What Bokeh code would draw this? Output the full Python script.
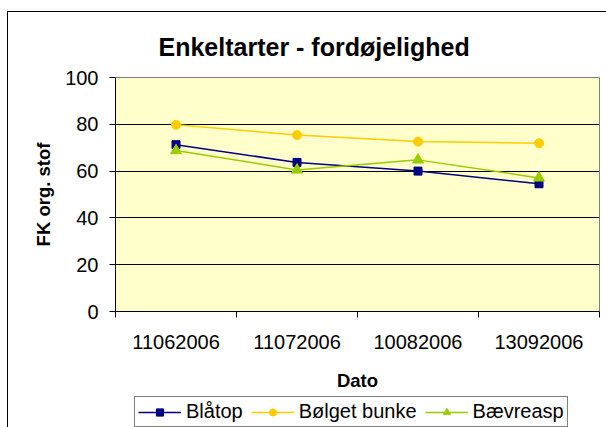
from bokeh.plotting import figure
from bokeh.layouts import column
from bokeh.models import (FixedTicker, Legend, LegendItem, Range1d, ColumnDataSource)
from bokeh.embed import file_html
from bokeh.resources import INLINE

# ---- data ----
dates = ["11062006", "11072006", "10082006", "13092006"]
blatop = [71.3, 63.7, 60.0, 54.6]
bolget_bunke = [79.8, 75.4, 72.6, 71.9]
baevreasp = [68.8, 60.5, 64.8, 57.1]
y_ticks = [0, 20, 40, 60, 80, 100]
series_names = ["Blåtop", "Bølget bunke", "Bævreasp"]

title_text = "Enkeltarter - fordøjelighed"
x_label = "Dato"
y_label = "FK org. stof"

xpos = [i + 0.5 for i in range(len(dates))]
src = ColumnDataSource(dict(x=xpos, a=blatop, b=bolget_bunke, c=baevreasp))

FONT = "Liberation Sans"
COLORS = ["#000080", "#FFCC00", "#99CC00"]
MARKERS = ["square", "circle", "triangle"]
SIZES = [8, 9, 11]

p = figure(width=598, height=384, output_backend="svg", toolbar_location=None,
           x_range=Range1d(0, len(dates)), y_range=Range1d(0, 100),
           min_border_left=107, min_border_right=7, min_border_top=65,
           min_border_bottom=85)

p.title.text = title_text
p.title.align = "left"
p.title.offset = 43
p.title.text_font = FONT
p.title.text_font_size = "25px"
p.title.text_font_style = "bold"
p.title.text_color = "black"
p.title.standoff = 34

p.background_fill_color = "#FFFFCC"
p.border_fill_color = "white"
p.outline_line_color = "#808080"
p.outline_line_width = 1

# grid
p.xgrid.visible = False
p.ygrid.ticker = FixedTicker(ticks=[20, 40, 60, 80])
p.ygrid.grid_line_color = "black"
p.ygrid.grid_line_width = 1

# y axis
p.yaxis.ticker = FixedTicker(ticks=y_ticks)
p.yaxis.axis_line_color = "black"
p.yaxis.major_tick_line_color = "black"
p.yaxis.major_tick_out = 6
p.yaxis.major_tick_in = 0
p.yaxis.minor_tick_line_color = None
p.yaxis.major_label_standoff = 11
p.yaxis.major_label_text_font = FONT
p.yaxis.major_label_text_font_size = "20px"
p.yaxis.major_label_text_color = "black"
p.yaxis.axis_label = y_label
p.yaxis.axis_label_text_font = FONT
p.yaxis.axis_label_text_font_size = "18.5px"
p.yaxis.axis_label_text_font_style = "bold"
p.yaxis.axis_label_text_color = "black"
p.yaxis.axis_label_standoff = 8

# x axis: labels at category centres, ticks at category boundaries
p.xaxis.ticker = FixedTicker(ticks=xpos, minor_ticks=list(range(len(dates) + 1)))
p.xaxis.major_label_overrides = {x: d for x, d in zip(xpos, dates)}
p.xaxis.axis_line_color = "black"
p.xaxis.major_tick_out = 0
p.xaxis.major_tick_in = 0
p.xaxis.minor_tick_out = 6
p.xaxis.minor_tick_in = 0
p.xaxis.minor_tick_line_color = "black"
p.xaxis.major_label_standoff = 17
p.xaxis.major_label_text_font = FONT
p.xaxis.major_label_text_font_size = "20px"
p.xaxis.major_label_text_color = "black"
p.xaxis.axis_label = x_label
p.xaxis.axis_label_text_font = FONT
p.xaxis.axis_label_text_font_size = "18.5px"
p.xaxis.axis_label_text_font_style = "bold"
p.xaxis.axis_label_text_color = "black"
p.xaxis.axis_label_standoff = 18

# series
for col, c, m, s in zip(["a", "b", "c"], COLORS, MARKERS, SIZES):
    p.line("x", col, source=src, line_color=c, line_width=1.5)
    p.scatter("x", col, source=src, marker=m, size=s, fill_color=c, line_color=c)

# legend strip (separate figure below the chart; its glyphs fall outside its range)
q = figure(width=598, height=31, output_backend="svg", toolbar_location=None,
           x_range=Range1d(0, 1), y_range=Range1d(0, 1),
           x_axis_location=None, y_axis_location=None,
           min_border_left=0, min_border_right=0, min_border_top=0,
           min_border_bottom=0)
q.grid.visible = False
q.outline_line_color = None
q.background_fill_color = "white"
q.border_fill_color = "white"
items = []
for name, col, c, m, s in zip(series_names, ["a", "b", "c"], COLORS, MARKERS, SIZES):
    lr = q.line("x", col, source=src, line_color=c, line_width=1.5)
    sr = q.scatter("x", col, source=src, marker=m, size=s, fill_color=c, line_color=c)
    items.append(LegendItem(label=name, renderers=[lr, sr]))
legend = Legend(items=items, orientation="horizontal", location=(19, 0))
legend.label_text_font = FONT
legend.label_text_font_size = "20px"
legend.label_text_color = "black"
legend.glyph_width = 43
legend.glyph_height = 18
legend.label_height = 18
legend.label_standoff = 5
legend.spacing = 8
legend.padding = 3
legend.margin = 0
legend.border_line_color = "black"
legend.border_line_width = 1
legend.background_fill_color = "white"
legend.background_fill_alpha = 1
q.add_layout(legend, "center")

layout = column(p, q, spacing=0,
                styles={"margin-left": "7px", "margin-top": "11px",
                        "border-left": "1px solid black",
                        "border-top": "1px solid black"})

open("out.html", "w").write(file_html(layout, INLINE))
